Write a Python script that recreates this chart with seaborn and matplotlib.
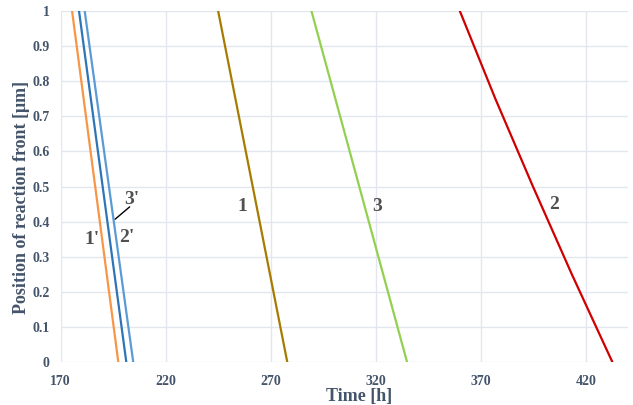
import pandas as pd
import matplotlib
matplotlib.use('Agg')
import matplotlib.pyplot as plt
import seaborn as sns

# Position of reaction front (um) at which times were read
pos_ends = [1.0, 0.0]
pos_red = [1.0, 0.75, 0.5, 0.25, 0.0]

# Time [h] for each curve
t_1p = [175.5, 197.5]
t_3p = [178.8, 201.3]
t_2p = [181.5, 204.6]
t_1 = [245.0, 277.9]
t_3 = [289.4, 334.9]
t_2 = [360.0, 376.9, 394.8, 413.3, 432.6]

curves = ["1'", "3'", "2'", "1", "3", "2"]
colors = ['#F79646', '#2E75B6', '#5B9BD5', '#A67C00', '#92D050', '#D00000']

frames = []
for name, t, p in zip(curves, [t_1p, t_3p, t_2p, t_1, t_3, t_2],
                      [pos_ends] * 5 + [pos_red]):
    frames.append(pd.DataFrame({'time': t, 'pos': p, 'curve': name}))
df = pd.concat(frames)

sns.set_style('whitegrid')
plt.rcParams['font.family'] = ['Liberation Serif', 'DejaVu Serif']

fig, ax = plt.subplots(figsize=(6.33, 4.05), dpi=100)
fig.subplots_adjust(left=0.0956, right=0.992, top=0.973, bottom=0.106)

sns.lineplot(data=df, x='time', y='pos', hue='curve', palette=dict(zip(curves, colors)),
             sort=False, estimator=None, linewidth=1.6, legend=False, ax=ax)

ax.set_xlim(170, 440)
ax.set_ylim(0, 1)
ax.set_xticks([170, 220, 270, 320, 370, 420])
ax.set_yticks([i / 10 for i in range(11)])
ax.set_yticklabels(['0'] + ['0.%d' % i for i in range(1, 10)] + ['1'])
ax.grid(color='#E3E6EE', linewidth=1)
for s in ax.spines.values():
    s.set_visible(False)
ax.tick_params(length=0, labelsize=10, labelcolor='#44546A')
ax.tick_params(axis='x', pad=9)
ax.tick_params(axis='y', pad=8)
for lab in ax.get_xticklabels() + ax.get_yticklabels():
    lab.set_fontweight('bold')

ax.set_xlabel('Time [h]', fontsize=13, fontweight='bold', color='#44546A')
ax.set_ylabel('Position of reaction front [μm]', fontsize=13, fontweight='bold', color='#44546A')
ax.xaxis.set_label_coords(0.526, -0.075)
ax.yaxis.set_label_coords(-0.054, 0.47)

# curve labels
lab_kw = dict(fontsize=14, fontweight='bold', color='#505050', ha='center', va='center')
ax.text(185.1, 0.348, "1'", **lab_kw)
ax.text(201.5, 0.356, "2'", **lab_kw)
ax.text(204.0, 0.463, "3'", **lab_kw)
ax.plot([196.0, 202.9], [0.407, 0.442], color='black', linewidth=1)
ax.text(256.6, 0.444, '1', **lab_kw)
ax.text(320.4, 0.444, '3', **lab_kw)
ax.text(404.8, 0.45, '2', **lab_kw)

fig.savefig('out.png', dpi=100)
